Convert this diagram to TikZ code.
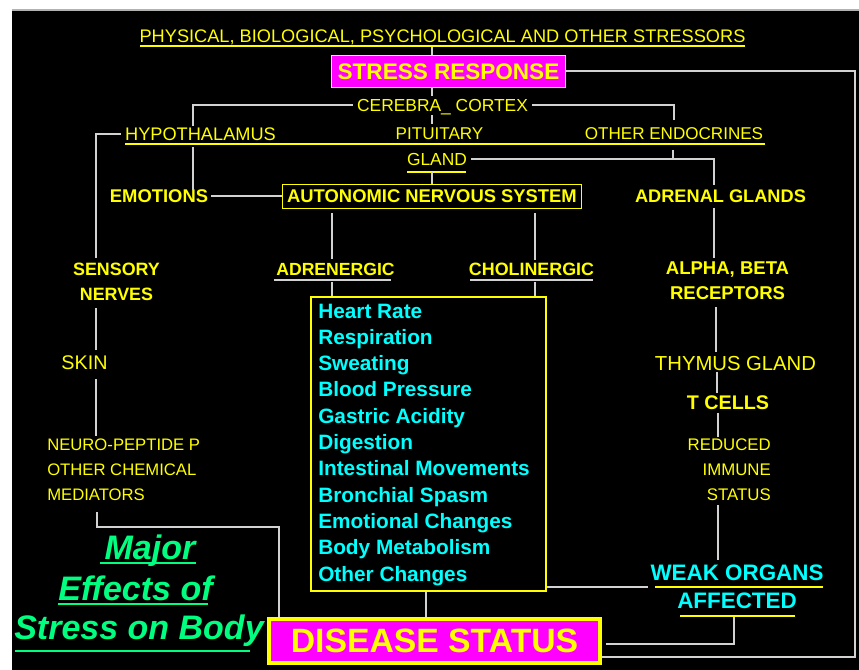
\documentclass[tikz,border=0pt]{standalone}
\usepackage{fontspec}
\setmainfont{Liberation Sans}
\usetikzlibrary{calc}
\definecolor{yel}{RGB}{255,255,0}
\definecolor{mag}{RGB}{255,0,255}
\definecolor{cyn}{RGB}{0,255,255}
\definecolor{grnc}{RGB}{0,255,128}
\definecolor{wirec}{RGB}{210,210,210}
\newcommand\fz[1]{\fontsize{#1}{18.75}\selectfont}
\tikzset{
  txt/.style={text=yel, inner sep=0pt, text depth=0pt},
  reg/.style={txt, font=\fz{#1}},
  bld/.style={txt, font=\bfseries\fz{#1}},
  cyl/.style={text=cyn, inner sep=0pt, anchor=base west, font=\bfseries\fontsize{15.6}{19}\selectfont},
  cyb/.style={text=cyn, inner sep=0pt, text depth=0pt, font=\bfseries\fontsize{16.8}{20}\selectfont},
  grt/.style={text=grnc, inner sep=0pt, text depth=0pt, font=\bfseries\itshape\fontsize{25.5}{30}\selectfont},
  wire/.style={draw=wirec, line width=1.5pt},
  uline/.style={draw=yel, line width=1.5pt},
  wline/.style={draw=wirec, line width=1.5pt},
  gline/.style={draw=grnc, line width=2.2pt},
}
\begin{document}
\begin{tikzpicture}[x=0.75pt,y=-0.75pt]
\useasboundingbox (0,0) rectangle (859,670);
\fill[white] (0,0) rectangle (859,670);
\fill[black] (12,10) rectangle (859,670);
\draw[gray!60, line width=0.8pt] (12,10) -- (859,10);

% x positions of vertical connectors
\foreach \n/\v in {96/96,97/97,193/193,332/332,426/426,432/432,535/535,673/673,674/674,714/714,716/716,717/717,718/718,734/734}
  \coordinate (X\n) at (\v,0);

% ---------- texts and boxes ----------
\node[reg=13.65] (title) at (442.5,36) {PHYSICAL, BIOLOGICAL, PSYCHOLOGICAL AND OTHER STRESSORS};
\draw[uline] (140,46) -- (745,46);

\node[draw=yel, fill=mag, line width=1.1pt, minimum width=175.4pt, minimum height=23.9pt,
      bld=16.9] (stress) at (448.5,71.5) {STRESS RESPONSE};

\node[reg=13.05] (cortex) at (442.5,105) {CEREBRA\_ CORTEX};
\node[reg=13.65] (hypo) at (200.5,134) {HYPOTHALAMUS};
\node[reg=12.8] (pit) at (439.5,134) {PITUITARY};
\node[reg=12.8] (oe) at (674,134) {OTHER ENDOCRINES};
\draw[uline] (125,144) -- (765,144);
\node[reg=13.05] (gland) at (437,159) {GLAND};
\draw[uline] (407,172) -- (466,172);

\node[bld=13.8] (emo) at (159,196.5) {EMOTIONS};
\node[draw=yel, line width=1.1pt, minimum width=224.2pt, minimum height=18pt, bld=13.8] (ans) at (432,196.5) {AUTONOMIC NERVOUS SYSTEM};
\node[bld=13.65] (adrenal) at (720.5,196) {ADRENAL GLANDS};

\node[bld=13.4, align=center] (sens) at (116.5,281.5) {SENSORY\\NERVES};
\node[bld=13.2] (adren) at (335.5,269) {ADRENERGIC};
\draw[wline] (274,280) -- (391,280);
\node[bld=13.4] (chol) at (531.5,269) {CHOLINERGIC};
\draw[wline] (470,280) -- (593,280);
\node[bld=13.9, align=center] (alpha) at (727.5,281) {ALPHA, BETA\\RECEPTORS};

\node[draw=yel, line width=1.5pt, minimum width=176.6pt, minimum height=220.9pt, inner sep=0pt] (box) at (428.5,444) {};
\foreach \t [count=\i from 0] in {Heart Rate,Respiration,Sweating,Blood Pressure,Gastric Acidity,Digestion,Intestinal Movements,Bronchial Spasm,Emotional Changes,Body Metabolism,Other Changes}
  \node[cyl] (it\i) at (318,{318+26.3*\i}) {\t};

\node[reg=14.8] (skin) at (84.5,363) {SKIN};
\node[reg=12.5, align=left, anchor=west] (neuro) at (47,470) {NEURO-PEPTIDE P\\OTHER CHEMICAL\\MEDIATORS};

\node[reg=15.2] (thymus) at (735.5,363) {THYMUS GLAND};
\node[bld=14.8] (tcells) at (728,403) {T CELLS};
\node[reg=12.6, align=right, anchor=east] (reduced) at (771,470) {REDUCED\\IMMUNE\\STATUS};

\node[cyb] (weak) at (737,573) {WEAK ORGANS};
\draw[uline] (655,587) -- (823,587);
\node[cyb] (affected) at (737,601) {AFFECTED};
\draw[uline] (680,616) -- (795,616);

\node[grt] (major) at (150,547) {Major};
\draw[gline] (100,563) -- (196,563);
\node[grt] (effects) at (135.5,588) {Effects of};
\draw[gline] (58,604) -- (208,604);
\node[grt] (stressbody) at (139,627) {Stress on Body};
\draw[gline] (15,651) -- (250,651);

\node[draw=yel, fill=mag, line width=3.3pt, minimum width=248pt, minimum height=32.6pt,
      bld=25.3] (disease) at (434.5,641) {DISEASE STATUS};

% ---------- connectors ----------
\draw[wire, shorten <=3pt] (title.south -| X432) -- (stress.north -| X432);
\draw[wire, shorten >=2pt] (stress.south -| X432) -- (cortex.north -| X432);
\draw[wire, shorten <=3pt, shorten >=3pt] (cortex.south -| X432) -- (pit.north -| X432);
\draw[wire, shorten >=1pt] ([xshift=-3pt]cortex.west) -| (hypo.north -| X193);
\draw[wire, shorten >=6pt] ([xshift=3pt]cortex.east) -| (oe.north -| X674);
\draw[wire, shorten >=3pt] ([xshift=-3pt]hypo.west) -| (sens.north -| X96);
\draw[wire, shorten <=5pt] (hypo.south -| X193) -- (emo.north -| X193);
\draw[wire, shorten <=2pt] (emo.east) -- (emo.east -| ans.west);
\draw[wire, shorten <=5pt] (gland.south -| X432) -- (ans.north);
\draw[wire, shorten >=3pt] ([xshift=3pt]gland.east) -| (adrenal.north -| X714);
\draw[wire, shorten <=7pt] (oe.south -| X673) -- (gland.east -| X673);
\draw[wire, shorten <=4pt, shorten >=3pt] (adrenal.south -| X714) -- (alpha.north -| X714);
\draw[wire, shorten <=3pt, shorten >=3pt] (ans.south -| X332) -- (adren.north -| X332);
\draw[wire, shorten <=3pt, shorten >=2pt] (ans.south -| X535) -- (chol.north -| X535);
\draw[wire, shorten <=5pt] (adren.south -| X332) -- (box.north -| X332);
\draw[wire, shorten <=5pt] (chol.south -| X535) -- (box.north -| X535);
\draw[wire, shorten <=5.5pt, shorten >=4.5pt] (sens.south -| X96) -- (skin.north -| X96);
\draw[wire, shorten <=6.5pt, shorten >=2pt] (skin.south -| X96) -- (neuro.north -| X96);
\coordinate (mj) at (279,527);
\draw[wire, shorten <=8pt] (neuro.south -| X97) |- (mj) -- (mj |- disease.north);
\draw[wire] (box.south -| X426) -- (disease.north -| X426);
\coordinate (wj) at (648,587);
\draw[wire] (box.east |- wj) -- (wj);
\draw[wire, shorten <=5pt, shorten >=3pt] (alpha.south -| X716) -- (thymus.north -| X716);
\draw[wire, shorten <=1pt, shorten >=2pt] (thymus.south -| X717) -- (tcells.north -| X717);
\draw[wire, shorten <=2pt, shorten >=1.5pt] (tcells.south -| X718) -- (reduced.north -| X718);
\draw[wire, shorten <=3pt, shorten >=4pt] (reduced.south -| X718) -- (weak.north -| X718);
\draw[wire, shorten <=6pt, shorten >=3pt] (affected.south -| X734) |- ([yshift=-2.25pt]disease.east);
\coordinate (rc) at (855,657);
\draw[wire] (stress.east) -| (rc) -- ([yshift=-12pt]disease.east);
\end{tikzpicture}
\end{document}
